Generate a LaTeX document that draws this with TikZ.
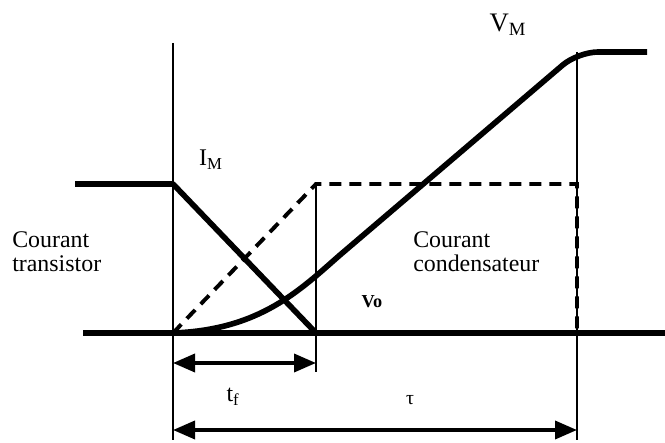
\documentclass[tikz,border=0pt]{standalone}
\usepackage{fontspec}
\setmainfont{Liberation Serif}
\usepackage{tikz}
\usetikzlibrary{arrows.meta}

\begin{document}
\begin{tikzpicture}[x=0.25mm,y=0.25mm,
  thin line/.style={line width=1.4pt},
  wave/.style={line width=4pt,line join=round},
  capa/.style={line width=2.8pt,dash pattern=on 3mm off 2mm},
  dim/.style={{Triangle[length=5.5mm,width=4.5mm]}-{Triangle[length=5.5mm,width=4.5mm]},line width=2.6pt},
  lbl/.style={font=\fontsize{17}{17}\selectfont,align=left,inner sep=0pt}]
  \useasboundingbox (0,0) rectangle (665,443);

  % Time marks
  \coordinate (t0top)  at (173,400);
  \coordinate (t0bot)  at (173,3);
  \coordinate (taubot) at (577,3);
  \coordinate (tfbot)  at (316,71);

  % Baseline
  \draw[wave] (83,110) -- (665,110);

  % Verticals
  \draw[thin line] (t0top) -- (t0bot);
  \draw[thin line] (577,391) -- (taubot);
  \draw[thin line] (316,259) -- (tfbot);

  % Courant transistor
  \draw[wave] (75,259) -- (173,259) -- (316,110);

  % Courant condensateur
  \draw[capa] (173,110) -- (316,259) -- (577,259) -- (577,110);

  % Tension v0
  \draw[wave] (173,110) .. controls (260,113) and (300,153) .. (340,188)
    [rounded corners=5mm] -- (578,391) -- (647,391);

  % Durees
  \coordinate (tfl)  at (173,80);
  \coordinate (tfr)  at (316,80);
  \coordinate (taul) at (173,13);
  \coordinate (taur) at (577,13);
  \draw[dim] (tfl) -- (tfr);
  \draw[dim] (taul) -- (taur);

  % Labels
  \node[lbl] (im) at (211,283) {I\textsubscript{M}};
  \node[lbl,font=\fontsize{19}{19}\selectfont] (vm) at (508,418) {V\textsubscript{M}};
  \node[lbl,anchor=west] (ctr) at (12,191) {Courant\\transistor};
  \node[lbl,anchor=west] (ccd) at (413,191) {Courant\\condensateur};
  \node[lbl,font=\fontsize{13}{13}\bfseries] (vo) at (372,141) {Vo};
  \node[lbl] (tf) at (233,46) {t\textsubscript{f}};
  \node[lbl,font=\fontsize{14}{14}\selectfont] (tau) at (410,43) {τ};
\end{tikzpicture}
\end{document}
